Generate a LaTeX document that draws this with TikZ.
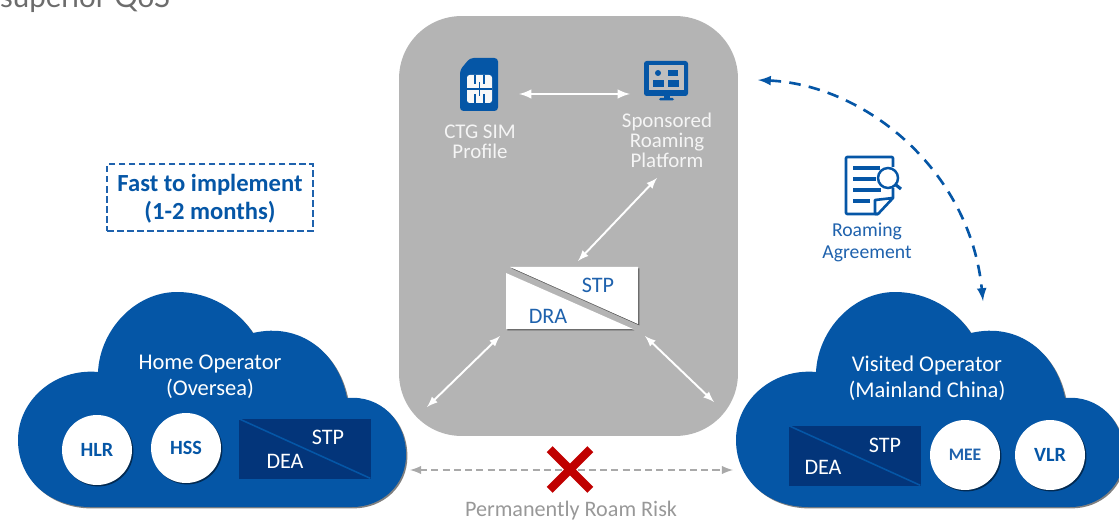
\documentclass[tikz,border=0pt]{standalone}
\usepackage{fontspec}
\setmainfont{Carlito}
\newfontfamily\headfont{Lato}
\usetikzlibrary{arrows, shadows}
\definecolor{opblue}{HTML}{0556A6}
\definecolor{deepblue}{HTML}{03357A}
\definecolor{panelgray}{HTML}{B4B4B4}
\definecolor{riskgray}{HTML}{A9A9A9}
\definecolor{crossred}{HTML}{C00000}
\definecolor{textblue}{HTML}{1F62AD}
\tikzset{
    softshadow/.style={drop shadow={shadow xshift=0.8pt, shadow yshift=-0.8pt, opacity=0.5, fill=black}},
    label/.style={align=center, inner sep=0pt, font=\fontsize{11.9}{11.4}\selectfont},
    cloudlabel/.style={label, text=white, font=\fontsize{12.8}{14.7}\selectfont},
    boxlabel/.style={label, text=white, font=\fontsize{12.6}{14}\selectfont},
    dralabel/.style={label, text=textblue, font=\fontsize{12.6}{14}\selectfont},
    panellabel/.style={label, text=white!92!gray},
    element/.style={circle, fill=white, minimum size=1.4cm, inner sep=0pt, softshadow, font=\fontsize{11.5}{12}\selectfont\bfseries, text=opblue},
    signal/.style={draw=deepblue, fill=deepblue, minimum width=2.62cm, minimum height=1.18cm, inner sep=0pt},
    link/.style={white, line width=1.1pt, latex-latex},
    opcloud/.pic={
        \fill[opblue, softshadow] (98,372) .. controls (100,330) and (135,292) .. (177,292)
            .. controls (210,292) and (238,310) .. (253,333)
            .. controls (300,322) and (338,352) .. (347,398)
            .. controls (380,395) and (406,420) .. (406,455)
            .. controls (406,485) and (382,507) .. (352,507)
            -- (90,507) .. controls (50,507) and (18,480) .. (18,440)
            .. controls (18,400) and (55,368) .. (98,372) -- cycle;
    }
}

\begin{document}
\begin{tikzpicture}[x=0.02cm, y=-0.02cm]
\useasboundingbox (0,0) rectangle (1119,520);
\node[anchor=base, text=gray!85!black, inner sep=0pt, font=\headfont\fontsize{16.8}{18}\selectfont] (headline) at (85,8) {superior QoS};

% Gateway panel
\node[fill=panelgray, rounded corners=1.25cm, minimum width=6.78cm, minimum height=8.4cm, inner sep=0pt] (panel) at (568.5,226) {};

% Operator clouds
\pic at (0,0) {opcloud};
\pic at (718,0) {opcloud};
\node[cloudlabel] (homelabel) at (210,377) {Home Operator\\(Oversea)};
\node[cloudlabel] (visitedlabel) at (927,378) {Visited Operator\\(Mainland China)};

% Home network elements
\node[element] (hlr) at (97,450) {HLR};
\node[element] (hss) at (186,448) {HSS};
\node[signal] (homebox) at (304.5,448.5) {};
\draw[opblue, line width=0.9pt] (homebox.north west) -- (homebox.south east);
\node[boxlabel] (homestp) at (328,437) {STP};
\node[boxlabel] (homedea) at (285,461) {DEA};

% Visited network elements
\node[signal] (visitbox) at (854.5,455.5) {};
\draw[opblue, line width=0.9pt] (visitbox.north west) -- (visitbox.south east);
\node[boxlabel] (visitstp) at (885,445) {STP};
\node[boxlabel] (visitdea) at (823,467) {DEA};
\node[element, font=\fontsize{10}{12}\selectfont\bfseries, text=textblue] (mee) at (965,455) {MEE};
\node[element] (vlr) at (1050,455) {VLR};

% SIM icon
\fill[opblue, rounded corners=2pt] (470,58) -- (498,58) -- (498,111) -- (460,111) -- (460,70) -- cycle;
\fill[white!90!panelgray, rounded corners=1.5pt] (467,75) rectangle (492,103);
\foreach \x in {475,484} {
    \draw[opblue, line width=1pt] (\x,75) -- (\x,84) (\x,94) -- (\x,103);
}
\draw[opblue, line width=1pt] (479.5,82) -- (479.5,96);
\draw[opblue, line width=1.1pt] (467,89) -- (492,89);
\node[panellabel] (simlabel) at (480,142) {CTG SIM\\Profile};

% Platform icon
\fill[opblue, rounded corners=1.5pt] (644,61) rectangle (688,96);
\fill[opblue] (664,96) rectangle (670,99);
\fill[opblue, rounded corners=0.8pt] (659,98) rectangle (674,100.5);
\fill[panelgray!85!white] (649,65) rectangle (684,90);
\fill[opblue] (658,73) circle (3);
\fill[opblue] (668,70) rectangle (678,76);
\foreach \x/\w in {653/11, 668/11} {
    \fill[opblue] (\x,80) rectangle (\x+\w,87);
}
\node[panellabel] (platformlabel) at (667,140) {Sponsored\\Roaming\\Platform};

% STP and DRA block
\fill[white, softshadow] (510,267) -- (638,267) -- (638,324) -- cycle;
\fill[white, softshadow] (506,273) -- (633,329) -- (506,329) -- cycle;
\node[dralabel] (drastp) at (598,285) {STP};
\node[dralabel] (dralabel) at (548,316) {DRA};

% White links in the panel
\coordinate (simend) at (519,94);
\coordinate (platformend) at (630,94);
\coordinate (upperend) at (578,261);
\coordinate (platformfoot) at (657,178);
\coordinate (dralow) at (500,336);
\coordinate (homeend) at (427,407);
\coordinate (stplow) at (645,336);
\coordinate (visitend) at (714,402);
\draw[link, line width=1.4pt] (simend) -- (platformend);
\draw[link] (upperend) -- (platformfoot);
\draw[link] (dralow) -- (homeend);
\draw[link] (stplow) -- (visitend);

% Blocked path
\coordinate (riskleft) at (410,470);
\coordinate (riskright) at (733,470);
\draw[riskgray, line width=1.2pt, dash pattern=on 4pt off 2.4pt, latex-latex] (riskleft) -- (riskright);
\node[inner sep=0pt, minimum size=0.8cm] (cross) at (570,469.5) {};
\draw[crossred, line width=4.8pt] (cross.north west) -- (cross.south east) (cross.north east) -- (cross.south west);
\node[riskgray!90!black, inner sep=0pt, font=\fontsize{12.6}{13}\selectfont] (risklabel) at (571,510.5) {Permanently Roam Risk};

% Agreement
\coordinate (panelarc) at (758,80);
\coordinate (cloudarc) at (983,301);
\draw[opblue, line width=1.5pt, dash pattern=on 6.6pt off 4.7pt, latex-latex] (panelarc) .. controls (865,85) and (970,170) .. (cloudarc);
\draw[opblue, line width=1.5pt, line join=round, rounded corners=0.6pt] (878,214) -- (846,214) -- (846,157) -- (893,157) -- (893,167);
\draw[opblue, line width=1.5pt, line join=round] (893,188) -- (893,198) -- (878,214) -- (875,214) -- (875,200) -- (893,198);
\foreach \y/\w in {168/880, 179/876, 190/881, 201/870} {
    \draw[opblue, line width=1.8pt] (853,\y) -- (\w,\y);
}
\draw[opblue, line width=1.4pt] (888,178) circle (10);
\draw[opblue, line width=1.8pt] (896,185) -- (901,189);
\node[label, text=textblue, font=\fontsize{11.2}{12.6}\selectfont] (agreementlabel) at (867,242) {Roaming\\Agreement};

% Lead time box
\node[draw=textblue, line width=1.1pt, dash pattern=on 3.8pt off 1.9pt, minimum width=4.12cm, minimum height=1.34cm, inner sep=0pt] (leadbox) at (210,197.5) {};
\node[label, text=opblue, font=\fontsize{14}{16}\selectfont\bfseries] (leadtime) at (210,198.5) {Fast to implement\\(1-2 months)};
\end{tikzpicture}
\end{document}
